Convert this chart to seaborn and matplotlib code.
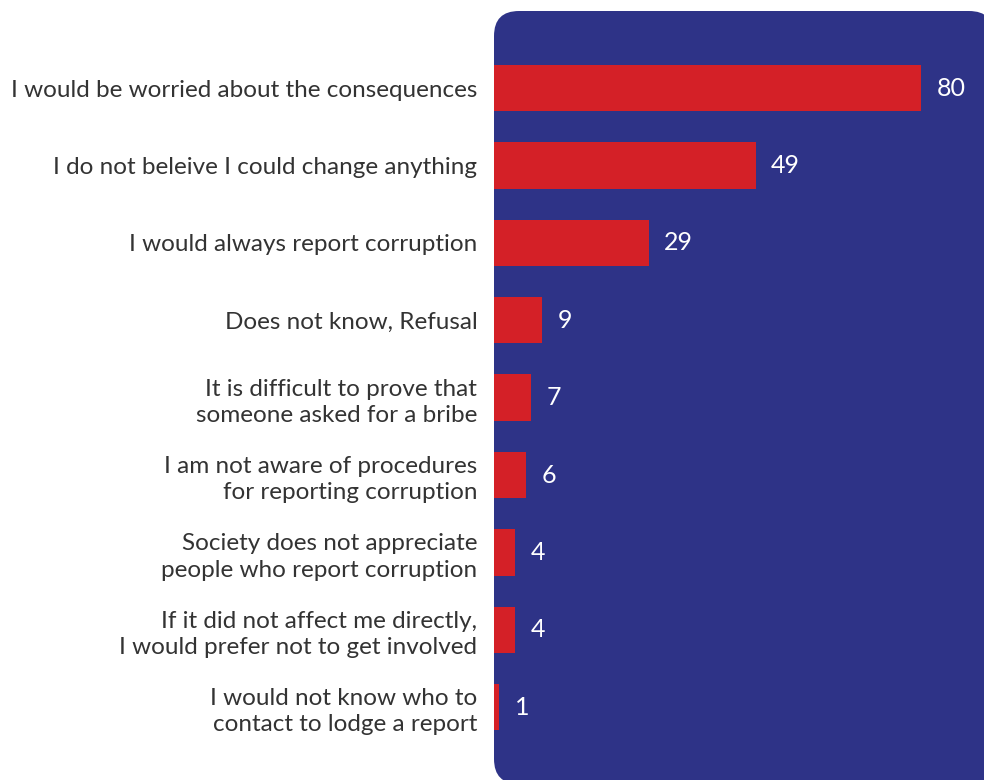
import pandas as pd
import matplotlib.pyplot as plt
import matplotlib.transforms as mtransforms
from matplotlib.patches import FancyBboxPatch
import seaborn as sns

sns.set_theme(style='white')
plt.rcParams['font.family'] = ['Lato', 'DejaVu Sans']

navy = '#2E3387'
red = '#D42027'

reasons = [
    'I would be worried about the consequences',
    'I do not beleive I could change anything',
    'I would always report corruption',
    'Does not know, Refusal',
    'It is difficult to prove that\nsomeone asked for a bribe',
    'I am not aware of procedures\nfor reporting corruption',
    'Society does not appreciate\npeople who report corruption',
    'If it did not affect me directly,\nI would prefer not to get involved',
    'I would not know who to\ncontact to lodge a report',
]
shares = [80, 49, 29, 9, 7, 6, 4, 4, 1]

df = pd.DataFrame({'Reason': reasons, 'Share': shares})

W, H = 984, 780
fig = plt.figure(figsize=(W / 100, H / 100), dpi=100)
fig.patch.set_facecolor('white')

# rounded navy panel behind the bars (pixel coords)
panel = FancyBboxPatch((494, -4), 500, H - 11 + 4,
                       boxstyle='round,pad=0,rounding_size=25',
                       transform=mtransforms.IdentityTransform(),
                       facecolor=navy, edgecolor='none', zorder=0)
fig.add_artist(panel)

ax = fig.add_axes([494 / W, 0, 1 - 494 / W, 1 - 11 / H])
ax.set_facecolor('none')
sns.barplot(data=df, x='Share', y='Reason', color=red, width=0.6,
            saturation=1, linewidth=0, ax=ax, zorder=2)

ax.set_xlim(0, 490 / 5.34)
ax.set_ylim(8.94, -0.995)
for c in ax.containers:
    ax.bar_label(c, padding=11, color='white', fontsize=18)

ax.set_xlabel('')
ax.set_ylabel('')
ax.set_xticks([])
ax.tick_params(axis='y', length=0, pad=12, labelsize=17.5, labelcolor='#333333')
for lbl in ax.get_yticklabels():
    lbl.set_linespacing(1.3)
sns.despine(ax=ax, left=True, bottom=True)

fig.savefig('out.png', dpi=100, facecolor='white')
